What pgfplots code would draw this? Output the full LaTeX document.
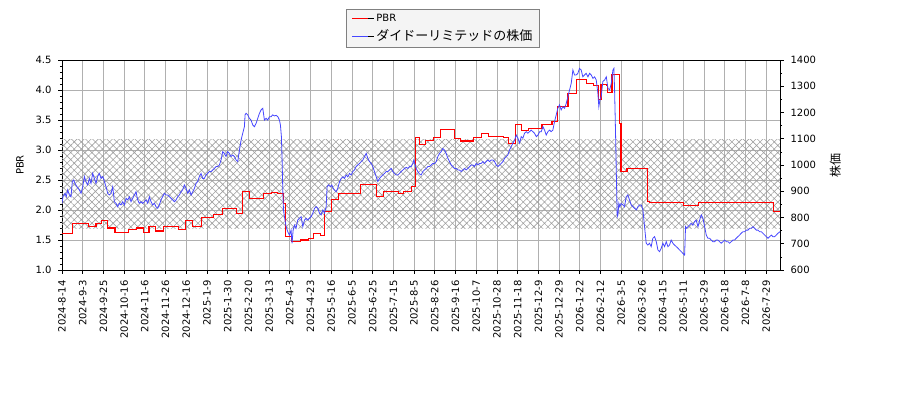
\documentclass[border=0pt]{standalone}
\usepackage{fontspec}
\setmainfont{DejaVu Sans}
\newfontfamily\cjk{Noto Sans CJK JP}
\usepackage{pgfplots}
\pgfplotsset{compat=1.18}
\usetikzlibrary{patterns.meta}

\definecolor{pbrred}{RGB}{255,0,0}
\definecolor{stockblue}{RGB}{70,70,255}
\definecolor{gridgray}{RGB}{176,176,176}
\definecolor{hatchgray}{RGB}{160,160,160}
\definecolor{framegray}{RGB}{128,128,128}
\definecolor{legendfill}{RGB}{244,244,244}

\pgfplotsset{
  common/.style={
    at={(62pt,130pt)}, anchor=south west,
    scale only axis, width=718pt, height=210pt,
    xmin=0, xmax=520,
    tick align=outside,
    major tick length=3.5pt, minor tick length=2pt,
    major tick style={black, line width=0.8pt},
    minor tick style={black, line width=0.6pt},
    axis line style={line width=0.8pt},
    tick label style={font=\fontsize{10}{12}\selectfont},
    label style={font=\fontsize{10}{12}\selectfont},
    /pgf/number format/assume math mode=true,
  },
}

\begin{document}
\begin{tikzpicture}[x=1pt,y=1pt]
\path[use as bounding box] (0,0) rectangle (900,400);

\begin{axis}[
    common,
    ymin=1, ymax=4.5,
    xtick={0,15,...,510},
    xticklabels={2024-8-14,2024-9-3,2024-9-25,2024-10-16,2024-11-6,2024-11-26,2024-12-16,
      2025-1-9,2025-1-30,2025-2-20,2025-3-13,2025-4-3,2025-4-23,2025-5-16,2025-6-5,
      2025-6-25,2025-7-15,2025-8-5,2025-8-26,2025-9-16,2025-10-7,2025-10-28,2025-11-18,
      2025-12-9,2025-12-29,2026-1-22,2026-2-12,2026-3-5,2026-3-26,2026-4-15,2026-5-11,
      2026-5-29,2026-6-18,2026-7-8,2026-7-29},
    x tick label style={yshift=-3.5pt, rotate=90, anchor=east},
    xtick pos=bottom, ytick pos=left,
    ytick={1,1.5,...,4.5},
    minor y tick num=4,
    y tick label style={xshift=-3.5pt, /pgf/number format/.cd, fixed, fixed zerofill, precision=1},
    ylabel={PBR},
    ylabel style={yshift=5pt},
    grid=major,
    major grid style={gridgray, line width=0.8pt},
    legend style={at={(0.5306,1.243)}, anchor=north, draw=framegray, fill=legendfill,
      font=\fontsize{10}{12}\selectfont, row sep=3pt, inner xsep=5pt, inner ysep=3pt},
    legend cell align=left,
]

% hatched band
\addplot[draw=none, pattern={Hatch[angle=45,distance=5pt,line width=0.6pt]},
  pattern color=hatchgray, forget plot]
  coordinates {(0,1.7)(520,1.7)(520,3.18)(0,3.18)} -- cycle;

\addplot[const plot, color=pbrred, line width=1.2pt, forget plot]
  coordinates {
  (0,1.61)(7.7,1.78)(19,1.72)(24.6,1.78)(28.7,1.83)(32.8,1.70)(38.4,1.62)(48,1.67)
  (54,1.70)(59,1.62)(63,1.72)(67.9,1.65)(73.4,1.73)(78.3,1.72)(84.3,1.68)(89.6,1.82)
  (94.7,1.72)(101,1.88)(109.7,1.92)(116,2.03)(126.6,1.94)(131,2.31)(136,2.19)(146,2.28)
  (152,2.29)(156,2.28)(160.4,2.11)(161.6,1.56)(166.4,1.47)(172.5,1.50)(178.5,1.53)
  (182.1,1.61)(187,1.57)(190,1.97)(195.4,2.17)(200.2,2.27)(206.3,2.28)(216,2.42)
  (227.5,2.22)(232.8,2.31)(243.7,2.27)(247.3,2.31)(253.4,2.39)(255.8,3.21)(258.9,3.09)
  (263,3.16)(269,3.21)(273.9,3.34)(284,3.19)(288.4,3.15)(298,3.21)(304,3.28)(309,3.22)
  (319.8,3.21)(323.4,3.11)(328.2,3.43)(333,3.32)(337.9,3.36)(347.6,3.43)(354.8,3.47)
  (358.9,3.73)(366.4,3.94)(372.9,4.17)(374.9,4.18)(379.7,4.11)(385,4.07)(388.6,3.84)
  (390.3,4.09)(394.2,4.07)(395.1,3.96)(398.3,4.26)(403.9,3.44)(404.8,2.64)(409.2,2.69)
  (424.1,2.14)(425.3,2.13)(450.2,2.07)(461.1,2.13)(515.4,1.97)(520,1.97)
  };
\addlegendimage{legend image code/.code={\path (0pt,0pt) -- (22pt,0pt);
  \draw[color=pbrred, draw=pbrred, line width=1.2pt] (0pt,0pt) -- (16pt,0pt);}}
\addlegendentry{PBR}
\addlegendimage{legend image code/.code={\path (0pt,0pt) -- (22pt,0pt);
  \draw[color=stockblue, draw=stockblue, line width=0.8pt] (0pt,0pt) -- (16pt,0pt);}}
\addlegendentry{\fontsize{13}{15}\cjk ダイドーリミテッドの株価}
\end{axis}

\begin{axis}[
    common,
    ymin=600, ymax=1400,
    axis y line*=right,
    axis x line=none,
    ytick={600,700,...,1400},
    minor y tick num=1,
    y tick label style={xshift=3.5pt, /pgf/number format/1000 sep={}},
    ylabel={\fontsize{12}{14}\cjk 株価},
    ylabel style={yshift=-7pt},
]
\addplot[color=stockblue, line width=0.8pt]
  coordinates {
  (0,854)(0.7,879)(2.2,892)(3.1,879)(4.1,905)(5.3,886)(6.5,879)(7.5,937)(8.5,943)
  (9.4,930)(10.9,917)(12.6,905)(13.8,892)(15.0,917)(16.2,956)(17.4,936)(18.6,924)
  (19.8,949)(21.0,930)(22.2,968)(23.4,949)(24.6,930)(25.8,956)(27.0,968)(28.3,949)
  (29.5,956)(30.7,937)(31.9,917)(33.1,892)(34.3,886)(35.5,892)(36.7,917)(37.4,886)
  (37.9,860)(39.1,854)(40.3,841)(41.5,854)(42.7,848)(44.0,860)(45.2,848)(46.4,873)
  (47.6,867)(48.8,879)(50.0,860)(51.2,873)(52.4,886)(53.6,898)(54.8,867)(56.0,854)
  (57.2,860)(58.4,854)(59.7,860)(60.9,867)(62.1,854)(63.3,879)(64.5,860)(65.7,848)
  (66.9,854)(68.1,841)(69.3,835)(70.5,848)(71.7,867)(72.9,879)(74.1,892)(75.4,886)
  (76.6,886)(77.8,879)(79.0,873)(80.2,867)(81.4,860)(82.6,867)(83.8,879)(85.0,886)
  (86.2,898)(87.4,905)(88.6,924)(89.8,911)(91.1,892)(92.3,905)(93.5,886)(94.7,898)
  (95.9,911)(97.1,930)(98.3,937)(99.5,956)(100.7,968)(101.9,949)(103.1,949)(104.3,962)
  (105.5,968)(106.7,975)(108.0,975)(109.2,981)(110.4,987)(111.6,994)(112.8,994)
  (114.0,1000)(115.2,1019)(116.4,1051)(117.6,1044)(118.8,1032)(120.0,1051)(121.2,1044)
  (122.4,1032)(123.6,1038)(124.9,1032)(126.1,1019)(127.3,1013)(127.8,1032)(128.5,1057)
  (129.7,1095)(130.9,1121)(132.1,1146)(132.6,1191)(133.3,1197)(134.5,1191)(135.7,1178)
  (136.9,1171)(138.2,1152)(139.4,1146)(140.6,1159)(141.8,1178)(143.0,1197)(144.2,1210)
  (145.4,1216)(146.6,1171)(147.8,1178)(149.0,1171)(150.2,1184)(151.4,1184)(152.6,1191)
  (153.8,1187)(155.1,1189)(156.3,1184)(157.5,1171)(158.2,1152)(158.9,1108)(159.4,1019)
  (159.9,905)(160.4,829)(161.1,803)(162.3,765)(163.5,746)(164.7,733)(165.9,752)
  (166.6,702)(167.4,752)(168.3,771)(169.5,759)(170.7,790)(171.9,797)
  (173.2,803)(174.4,765)(175.6,790)(176.8,797)(178.0,790)(179.2,797)(180.4,803)
  (181.6,816)(182.9,835)(184.1,841)(185.3,835)(186.5,816)(187.7,810)(188.9,829)
  (190.1,816)(191.3,841)(192.0,917)(193.0,924)(194.4,917)(195.4,924)(196.4,911)
  (197.3,905)(198.5,898)(199.7,911)(201.0,936)(202.2,949)(203.4,955)(204.6,949)
  (205.8,962)(207.0,955)(208.2,968)(209.4,962)(210.6,975)(211.8,981)(213.0,994)
  (214.2,1000)(215.5,1006)(216.7,1013)(217.9,1019)(219.1,1032)(220.3,1044)(221.5,1025)
  (222.7,1013)(223.9,1006)(225.1,994)(226.3,975)(227.5,956)(228.7,937)(230.0,949)
  (231.2,956)(232.4,962)(233.6,968)(234.8,975)(236.0,975)(237.2,981)(238.4,987)
  (239.6,975)(240.8,968)(242.0,962)(243.2,962)(244.4,968)(245.6,975)(246.9,981)
  (248.1,987)(249.3,991)(250.5,987)(251.7,994)(252.9,994)(254.1,1006)(254.8,1019)
  (255.8,1000)(256.5,987)(257.7,975)(258.9,966)(260.1,962)(261.3,975)(262.5,981)
  (263.8,987)(265.0,994)(266.2,994)(267.4,1000)(268.6,1006)(269.8,1006)(271.0,1013)
  (272.2,1032)(273.4,1044)(274.6,1051)(275.8,1063)(277.0,1057)(278.2,1044)(279.5,1025)
  (280.7,1013)(281.9,1000)(283.1,994)(284.3,987)(285.5,987)(286.7,981)(287.9,981)
  (289.1,975)(290.3,981)(291.5,987)(292.7,981)(293.9,987)(295.2,994)(296.4,1000)
  (297.6,1000)(298.8,994)(300.0,1006)(301.2,1000)(302.4,1006)(303.6,1006)(304.8,1013)
  (306.0,1006)(307.2,1013)(308.4,1019)(309.6,1013)(310.9,1019)(312.1,1019)(313.3,1013)
  (314.5,1000)(315.7,994)(316.9,1000)(318.1,1006)(319.3,1013)(320.5,1025)(321.7,1032)
  (322.9,1038)(324.1,1057)(325.3,1070)(326.5,1083)(327.8,1095)(329.0,1114)(330.2,1102)
  (331.4,1083)(332.6,1108)(333.8,1102)(335.0,1121)(336.2,1127)(337.4,1121)(338.6,1127)
  (339.8,1133)(341.0,1127)(342.2,1121)(343.5,1108)(344.7,1114)(345.9,1127)(347.1,1127)
  (348.3,1146)(349.5,1133)(350.7,1114)(351.9,1127)(353.1,1133)(354.3,1127)(355.5,1133)
  (356.7,1165)(357.9,1190)(359.1,1216)(360.3,1229)(361.5,1210)(362.7,1222)(364.0,1216)
  (365.2,1235)(366.4,1260)(367.6,1286)(368.8,1311)(370.0,1362)(371.2,1343)(372.4,1343)
  (373.6,1349)(374.8,1368)(376.0,1362)(377.2,1336)(378.4,1343)(379.6,1349)(380.9,1336)
  (382.1,1349)(383.3,1343)(384.5,1330)(385.7,1336)(386.9,1324)(388.1,1273)(388.8,1222)
  (389.6,1248)(390.5,1260)(391.7,1318)(393.0,1324)(394.2,1336)(395.4,1292)(396.6,1286)
  (397.8,1311)(399.0,1362)(399.7,1368)(400.2,1286)(400.9,1121)(401.6,930)(402.1,803)
  (402.6,810)(403.3,854)(404.0,841)(405.0,854)(406.2,848)(407.4,841)(408.6,879)
  (409.8,886)(411.0,867)(412.2,848)(413.5,841)(414.7,835)(415.9,829)(417.1,841)
  (418.3,848)(419.5,848)(420.7,829)(421.9,765)(423.1,702)(424.3,695)(425.5,702)
  (426.7,689)(427.9,721)(429.2,727)(430.4,708)(431.6,676)(432.8,670)(434.0,683)
  (435.2,702)(436.4,689)(437.6,708)(438.8,689)(440.0,695)(441.2,714)(442.4,702)
  (443.6,695)(444.9,689)(446.1,683)(447.3,676)(448.5,670)(449.7,663)(450.9,657)
  (451.6,765)(452.3,759)(453.3,765)(454.5,771)(455.7,778)(456.9,771)(458.1,784)
  (459.3,790)(460.6,765)(461.8,790)(463.0,810)(464.2,797)(465.4,765)(466.6,733)
  (467.8,721)(469.0,721)(470.2,714)(471.4,708)(472.6,708)(473.8,714)(475.0,714)
  (476.2,708)(477.4,702)(478.7,708)(479.9,714)(481.1,708)(482.3,708)(483.5,702)
  (484.7,708)(485.9,714)(487.1,714)(488.3,721)(489.5,727)(490.7,733)(491.9,740)
  (493.2,746)(494.4,746)(495.6,752)(496.8,752)(498.0,759)(499.2,759)(500.4,765)
  (501.6,759)(502.8,752)(504.0,752)(505.2,746)(506.4,746)(507.6,740)(508.9,733)
  (510.1,727)(511.3,721)(512.5,727)(513.7,733)(514.9,727)(516.1,727)(517.3,733)
  (518.5,740)(520,746)
  };
\end{axis}
\end{tikzpicture}
\end{document}
